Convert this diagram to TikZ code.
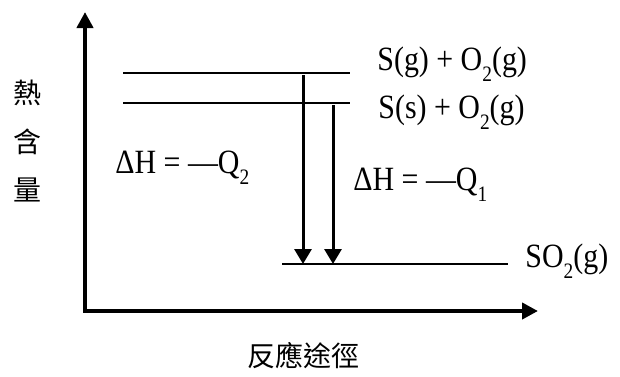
\documentclass[tikz,border=0pt]{standalone}
\usepackage{fontspec}
\setmainfont{Liberation Serif}
\newfontfamily\chemfont[FakeStretch=0.88]{Liberation Serif}
\newfontfamily\cjk{Noto Sans CJK TC}
\usetikzlibrary{arrows.meta}
\newcommand{\lo}[1]{\raisebox{-0.75ex}{\fontsize{11}{11}\selectfont #1}}

\begin{document}
\begin{tikzpicture}[x=0.5pt, y=-0.5pt,
    axis/.style={line width=2pt, -{Triangle[length=8pt, width=8pt]}},
    level/.style={line width=1pt},
    drop/.style={line width=1.5pt, -{Triangle[length=7.5pt, width=8.5pt]}},
    chem/.style={font=\chemfont\fontsize{17}{17}\selectfont, inner sep=0pt, anchor=base west},
    cjklab/.style={font=\cjk\fontsize{14}{14}\selectfont, inner sep=0pt},
]
\useasboundingbox (0,0) rectangle (620,376);
% axes
\coordinate (o)    at (85,311);
\coordinate (ytop) at (85,12);
\coordinate (xend) at (538,311);
\draw[axis] (o) -- (ytop);
\draw[axis] ([xshift=-1pt]o) -- (xend);
% energy levels
\coordinate (g1) at (123,73);
\coordinate (g2) at (350,73);
\coordinate (s1) at (123,103);
\coordinate (s2) at (350,103);
\coordinate (p1) at (282,264);
\coordinate (p2) at (508,264);
\draw[level] (g1) -- (g2);
\draw[level] (s1) -- (s2);
\draw[level] (p1) -- (p2);
% enthalpy drops
\coordinate (a1) at (303,75);
\coordinate (b1) at (303,264);
\coordinate (a2) at (333,105);
\coordinate (b2) at (333,264);
\draw[drop] (a1) -- (b1);
\draw[drop] (a2) -- (b2);
% labels
\node[chem] (gas)   at (377,70)  {S(g) + O\lo{2}(g)};
\node[chem] (solid) at (378,118) {S(s) + O\lo{2}(g)};
\node[chem] (so2)   at (525,267) {SO\lo{2}(g)};
\node[chem] (dh2)   at (115,173) {ΔH = —Q\lo{2}};
\node[chem] (dh1)   at (353,190) {ΔH = —Q\lo{1}};
\node[cjklab] (re) at (27,93)  {熱};
\node[cjklab] (han) at (27,142) {含};
\node[cjklab] (lia) at (27,190) {量};
\node[cjklab] (path) at (303,356) {反應途徑};
\end{tikzpicture}
\end{document}
